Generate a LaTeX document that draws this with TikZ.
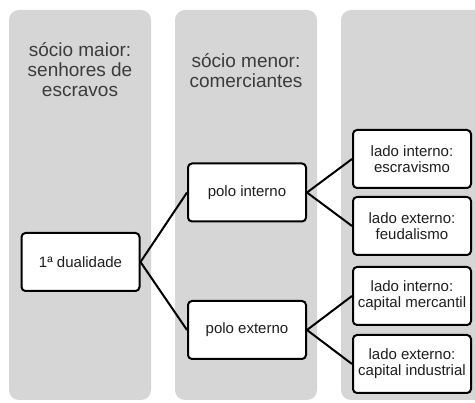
\documentclass[tikz,border=0pt]{standalone}
\usepackage{fontspec}
\setmainfont{Liberation Sans}
\usepackage{tikz}
\usetikzlibrary{positioning}
\definecolor{colgray}{HTML}{D6D6D6}
\definecolor{headtext}{HTML}{3C3C3C}
\definecolor{boxtext}{HTML}{1E1E1E}

\begin{document}
\begin{tikzpicture}[x=1pt, y=-1pt,
    column/.style={fill=colgray, rounded corners=10pt},
    header/.style={align=center, text=headtext, font=\fontsize{19}{20}\selectfont, inner sep=0pt},
    itembox/.style={draw=black, fill=white, line width=2pt, rounded corners=4pt,
        align=center, text=boxtext, font=\fontsize{15}{16}\selectfont,
        minimum width=118pt, minimum height=58pt, inner sep=0pt},
    link/.style={line width=2pt}]
    \clip (0,0) rectangle (475,403);
    \fill[white] (0,0) rectangle (475,403);

    % columns
    \fill[column] (9,10) rectangle (151,400);
    \fill[column] (175,10) rectangle (317,400);
    \fill[column] (341,10) rectangle (485,400);

    \node[header] (majorhead) at (80,70) {sócio maior:\\senhores de\\escravos};
    \node[header] (minorhead) at (246,71) {sócio menor:\\comerciantes};

    % boxes
    \node[itembox] (dual) at (80.5,262) {1ª dualidade};
    \node[itembox] (polint) at (247,192.5) {polo interno};
    \node[itembox] (polext) at (247,330) {polo externo};
    \node[itembox] (ladoA) at (412,159) {lado interno:\\escravismo};
    \node[itembox] (ladoB) at (412,226) {lado externo:\\feudalismo};
    \node[itembox] (ladoC) at (412,296) {lado interno:\\capital mercantil};
    \node[itembox] (ladoD) at (412,364) {lado externo:\\capital industrial};

    % links
    \draw[link] (dual.east) -- (polint.west);
    \draw[link] (dual.east) -- (polext.west);
    \draw[link] (polint.east) -- (ladoA.west);
    \draw[link] (polint.east) -- (ladoB.west);
    \draw[link] (polext.east) -- (ladoC.west);
    \draw[link] (polext.east) -- (ladoD.west);
\end{tikzpicture}
\end{document}
